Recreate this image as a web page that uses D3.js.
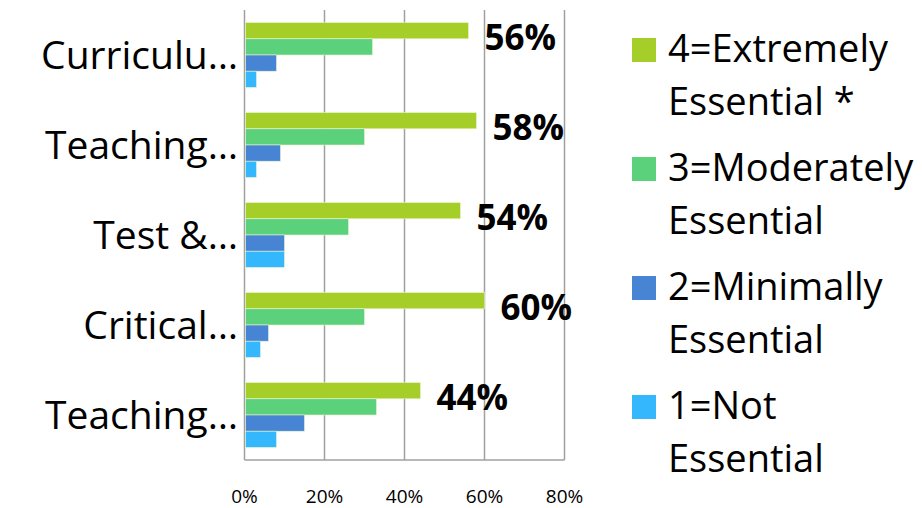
<!DOCTYPE html>
<html>
<head>
<meta charset="utf-8">
<script src="https://cdn.jsdelivr.net/npm/d3@7"></script>
<style>
  body { margin: 0; background: #fff; }
  svg text { font-family: "Open Sans", sans-serif; fill: #000; }
</style>
</head>
<body>
<svg id="chart"></svg>
<script>
// categories (labels are truncated as in the original)
const categories = ["Curriculu…", "Teaching…", "Test &…", "Critical…", "Teaching…"];
const legendLines = [["4=Extremely", "Essential *"], ["3=Moderately", "Essential"], ["2=Minimally", "Essential"], ["1=Not", "Essential"]];
const extremely = [56, 58, 54, 60, 44];
const moderately = [32, 30, 26, 30, 33];
const minimally = [8, 9, 10, 6, 15];
const notEssential = [3, 3, 10, 4, 8];
const xTicks = [0, 20, 40, 60, 80];
const colors = ["#a6ce29", "#5cd17b", "#4784d3", "#34b7fc"];

const series = [extremely, moderately, minimally, notEssential];

const config = {
  width: 922,
  height: 508,
  plot: { left: 244.5, right: 564.5, top: 10, bottom: 460 }
};

const svg = d3.select("#chart")
  .attr("width", config.width)
  .attr("height", config.height);

const x = d3.scaleLinear()
  .domain([0, 80])
  .range([config.plot.left, config.plot.right]);

const y = d3.scaleBand()
  .domain(categories.map((c, i) => i))
  .range([config.plot.top, config.plot.bottom])
  .paddingInner(0.28)
  .paddingOuter(0.14);

const ySub = d3.scaleBand()
  .domain(series.map((s, i) => i))
  .range([0, y.bandwidth()]);

// gridlines
svg.append("g")
  .selectAll("line")
  .data(xTicks)
  .enter()
  .append("line")
  .attr("x1", d => x(d))
  .attr("x2", d => x(d))
  .attr("y1", config.plot.top)
  .attr("y2", config.plot.bottom)
  .attr("stroke", "#a0a0a0")
  .attr("stroke-width", 1.5);

// bottom axis line
svg.append("line")
  .attr("x1", config.plot.left)
  .attr("x2", config.plot.right)
  .attr("y1", config.plot.bottom)
  .attr("y2", config.plot.bottom)
  .attr("stroke", "#a0a0a0")
  .attr("stroke-width", 1.5);

// bars
series.forEach((vals, si) => {
  svg.append("g")
    .selectAll("rect")
    .data(vals)
    .enter()
    .append("rect")
    .attr("x", x(0) + 1)
    .attr("y", (d, i) => y(i) + ySub(si))
    .attr("width", d => x(d) - x(0) - 1)
    .attr("height", ySub.bandwidth())
    .attr("fill", colors[si])
    .attr("stroke", "#e8f5d0")
    .attr("stroke-width", 0.6);
});

// value labels on the "extremely" bars
svg.append("g")
  .selectAll("text")
  .data(extremely)
  .enter()
  .append("text")
  .attr("x", d => x(d) + 16)
  .attr("y", (d, i) => y(i) + ySub(0) + ySub.bandwidth() + 11)
  .attr("font-size", 35)
  .attr("font-weight", "bold")
  .text(d => d + "%");

// category labels
svg.append("g")
  .selectAll("text")
  .data(categories)
  .enter()
  .append("text")
  .attr("x", 238)
  .attr("y", (d, i) => y(i) + y.bandwidth() / 2 + 14)
  .attr("text-anchor", "end")
  .attr("font-size", 39)
  .text(d => d);

// x tick labels
svg.append("g")
  .selectAll("text")
  .data(xTicks)
  .enter()
  .append("text")
  .attr("x", d => x(d))
  .attr("y", 503)
  .attr("text-anchor", "middle")
  .attr("font-size", 19)
  .text(d => d + "%");

// legend
const legend = svg.append("g")
  .selectAll("g")
  .data(legendLines)
  .enter()
  .append("g")
  .attr("transform", (d, i) => `translate(632, ${38 + i * 119})`);

legend.append("rect")
  .attr("width", 24)
  .attr("height", 24)
  .attr("fill", (d, i) => colors[i]);

legend.append("text")
  .attr("x", 36)
  .attr("y", 24)
  .attr("font-size", 38)
  .selectAll("tspan")
  .data(d => d)
  .enter()
  .append("tspan")
  .attr("x", 36)
  .attr("dy", (d, i) => i === 0 ? 0 : 53)
  .text(d => d);
</script>
</body>
</html>
